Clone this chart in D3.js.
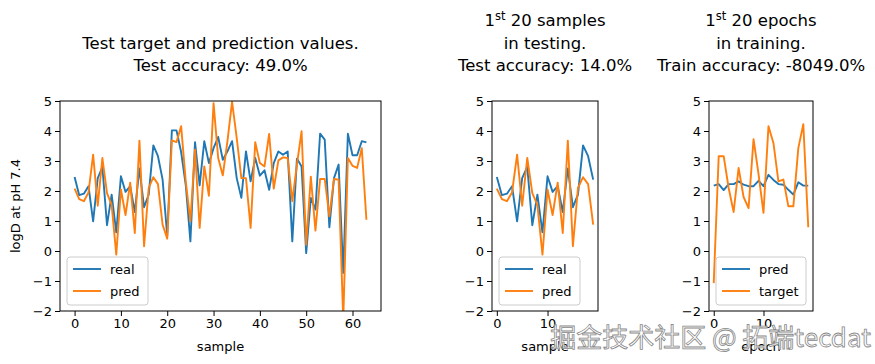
<!DOCTYPE html>
<html>
<head>
<meta charset="utf-8">
<script src="https://cdn.jsdelivr.net/npm/d3@7"></script>
<style>
body { margin: 0; background: #fff; }
text { font-family: "DejaVu Sans", sans-serif; }
</style>
</head>
<body>
<div id="viz"></div>
<script>
var width = 875, height = 364;

// test set: real vs predicted logD
var testReal = [2.47, 1.86, 1.91, 2.16, 0.99, 2.43, 2.8, 0.86, 1.88, 0.62,
  2.49, 1.97, 2.16, 1.3, 2.75, 1.46, 1.88, 3.52, 3.16, 2.38,
  0.5, 4.02, 4.02, 3.3, 2.2, 0.32, 3.63, 2.19, 3.66, 2.93,
  3.43, 3.8, 3.04, 3.32, 3.66, 2.43, 1.77, 3.32, 2.32, 3.1,
  2.51, 2.69, 2.04, 2.93, 3.32, 3.21, 3.32, 0.32, 3.08, 2.82,
  -0.07, 1.77, 1.38, 3.91, 3.71, 0.79, 2.43, 2.88, -0.73, 3.91,
  3.19, 3.19, 3.66, 3.62];
var testPred = [2.08, 1.73, 1.66, 1.95, 3.21, 1.51, 3.1, 1.93, 1.54, -0.12,
  2.05, 1.2, 2.28, 0.6, 3.68, 0.16, 2.1, 2.46, 2.23, 0.88,
  0.41, 3.69, 3.63, 4.16, 2.32, 0.99, 3.38, 0.77, 2.82, 1.84,
  4.93, 3.1, 2.52, 3.66, 4.97, 3.77, 2.43, 2.43, 0.77, 3.63,
  2.93, 2.82, 3.9, 2.08, 3.02, 3.12, 3.1, 1.66, 2.88, 3.99,
  0.21, 2.48, 0.68, 2.4, 2.4, 1.16, 2.4, 2.38, -2.3, 3.1,
  2.84, 2.77, 3.43, 1.04];

// first 20 training epochs
var trainPred = [2.18, 2.23, 2.03, 2.23, 2.23, 2.32, 2.21, 2.16, 2.16, 2.34,
  2.16, 2.54, 2.37, 2.23, 2.21, 2.04, 1.88, 2.29, 2.18, 2.18];
var trainTarget = [-1.07, 3.16, 3.16, 2.1, 1.3, 2.77, 1.8, 1.43, 3.73, 2.57,
  1.27, 4.16, 3.6, 2.32, 2.38, 1.49, 1.49, 3.43, 4.23, 0.79];

var yTicks = [-2, -1, 0, 1, 2, 3, 4, 5];

var svg = d3.select('#viz')
  .append('svg')
  .attr('width', width)
  .attr('height', height);

var plotTop = 101, plotBottom = 311;
var y = d3.scaleLinear().domain([-2, 5]).range([plotBottom, plotTop]);

function panel(id, left, right, series, colors, names, xTicks, xLabel, titleLines) {
  var n = series[0].length;
  var pad = (n - 1) * 0.05;
  var x = d3.scaleLinear().domain([-pad, n - 1 + pad]).range([left, right]);

  svg.append('clipPath').attr('id', id)
    .append('rect')
    .attr('x', left).attr('y', plotTop)
    .attr('width', right - left).attr('height', plotBottom - plotTop);

  var line = d3.line()
    .x(function(d, i) { return x(i); })
    .y(function(d) { return y(d); });

  var g = svg.append('g').attr('clip-path', 'url(#' + id + ')');
  series.forEach(function(s, k) {
    g.append('path')
      .datum(s)
      .attr('d', line)
      .attr('fill', 'none')
      .attr('stroke', colors[k])
      .attr('stroke-width', 1.9)
      .attr('stroke-linejoin', 'round');
  });

  // frame
  svg.append('rect')
    .attr('x', left).attr('y', plotTop)
    .attr('width', right - left).attr('height', plotBottom - plotTop)
    .attr('fill', 'none').attr('stroke', '#000').attr('stroke-width', 1);

  var xAxis = svg.append('g')
    .attr('transform', 'translate(0,' + plotBottom + ')')
    .call(d3.axisBottom(x).tickValues(xTicks).tickSize(5).tickPadding(3));
  var yAxis = svg.append('g')
    .attr('transform', 'translate(' + left + ',0)')
    .call(d3.axisLeft(y).tickValues(yTicks).tickFormat(d3.format('d')).tickSize(5).tickPadding(3));
  [xAxis, yAxis].forEach(function(a) {
    a.select('.domain').remove();
    a.selectAll('text').attr('font-size', 13).attr('fill', '#000')
      .style('font-family', '"DejaVu Sans", sans-serif');
    a.selectAll('line').attr('stroke', '#000');
  });

  svg.append('text')
    .attr('x', (left + right) / 2)
    .attr('y', 351)
    .attr('text-anchor', 'middle')
    .attr('font-size', 13)
    .text(xLabel);

  // title
  var cx = (left + right) / 2;
  titleLines.forEach(function(t, i) {
    var ty = 71 - (titleLines.length - 1 - i) * 22.5;
    var txt = svg.append('text')
      .attr('x', cx).attr('y', ty)
      .attr('text-anchor', 'middle')
      .attr('font-size', 16.5);
    if (typeof t === 'object') {
      txt.append('tspan').text(t.pre);
      txt.append('tspan').attr('dy', -6).attr('font-size', 11.5).text(t.sup);
      txt.append('tspan').attr('dy', 6).text(t.post);
    } else {
      txt.text(t);
    }
  });

  // legend
  var lx = left + 7, ly = 257;
  var lw = names[1].length > 4 ? 90 : 81;
  svg.append('rect')
    .attr('x', lx).attr('y', ly)
    .attr('width', lw).attr('height', 48)
    .attr('rx', 3)
    .attr('fill', '#fff').attr('fill-opacity', 0.8)
    .attr('stroke', '#ccc');
  names.forEach(function(nm, k) {
    var yy = ly + 12 + k * 22;
    svg.append('line')
      .attr('x1', lx + 6).attr('x2', lx + 34)
      .attr('y1', yy).attr('y2', yy)
      .attr('stroke', colors[k]).attr('stroke-width', 1.9);
    svg.append('text')
      .attr('x', lx + 43).attr('y', yy + 4.5)
      .attr('font-size', 13)
      .text(nm);
  });
}

var blue = '#1f77b4', orange = '#ff7f0e';

panel('c1', 60, 381, [testReal, testPred], [blue, orange], ['real', 'pred'],
  [0, 10, 20, 30, 40, 50, 60], 'sample',
  ['Test target and prediction values.', 'Test accuracy: 49.0%']);

panel('c2', 492, 598, [testReal.slice(0, 20), testPred.slice(0, 20)], [blue, orange], ['real', 'pred'],
  [0, 10], 'sample',
  [{pre: '1', sup: 'st', post: ' 20 samples'}, 'in testing.', 'Test accuracy: 14.0%']);

panel('c3', 709, 813, [trainPred, trainTarget], [blue, orange], ['pred', 'target'],
  [0, 10], 'epoch',
  [{pre: '1', sup: 'st', post: ' 20 epochs'}, 'in training.', 'Train accuracy: -8049.0%']);

// y label
svg.append('text')
  .attr('transform', 'translate(20,' + (plotTop + plotBottom) / 2 + ') rotate(-90)')
  .attr('text-anchor', 'middle')
  .attr('font-size', 13)
  .text('logD at pH 7.4');

// watermark
svg.append('text')
  .attr('x', 871).attr('y', 347)
  .attr('text-anchor', 'end')
  .attr('font-size', 26)
  .attr('fill', '#fff').attr('fill-opacity', 0.85)
  .attr('stroke', '#888').attr('stroke-width', 0.8)
  .style('font-family', '"Noto Sans CJK SC", sans-serif')
  .text('掘金技术社区 @ 拓端tecdat');
</script>
</body>
</html>
